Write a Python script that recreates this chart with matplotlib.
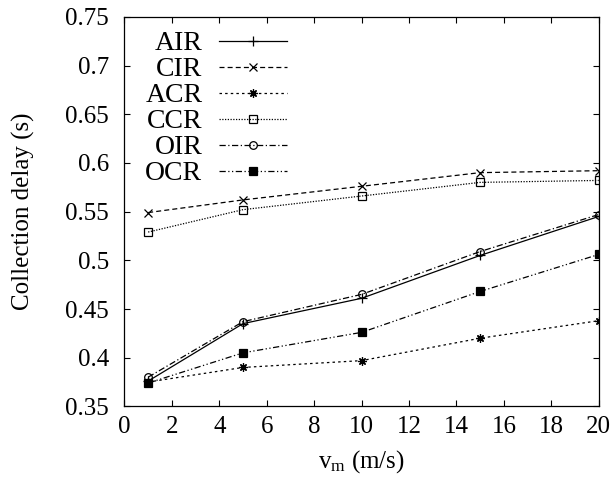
#!python3
# collection delay vs sink speed, gnuplot-like look

import matplotlib
matplotlib.use("Agg")
import matplotlib.pyplot as plt
from matplotlib import font_manager

# data
speeds = [1, 5, 10, 15, 20]
air = [0.376, 0.435, 0.461, 0.505, 0.545]
cir = [0.549, 0.562, 0.576, 0.590, 0.592]
acr = [0.375, 0.390, 0.397, 0.420, 0.438]
ccr = [0.529, 0.552, 0.566, 0.580, 0.582]
oir = [0.380, 0.437, 0.465, 0.509, 0.547]
ocr = [0.374, 0.405, 0.426, 0.468, 0.506]

x_ticks = list(range(0, 21, 2))
y_ticks = [0.35, 0.4, 0.45, 0.5, 0.55, 0.6, 0.65, 0.7, 0.75]
y_tick_labels = ["0.35", "0.4", "0.45", "0.5", "0.55", "0.6", "0.65", "0.7", "0.75"]


def pick_serif():
    names = {f.name for f in font_manager.fontManager.ttflist}
    for n in ["Liberation Serif", "Times New Roman", "Nimbus Roman", "TeX Gyre Termes",
              "FreeSerif", "DejaVu Serif"]:
        if n in names:
            return n
    return "serif"


def main():
    serif = pick_serif()
    plt.rcParams['font.family'] = serif
    plt.rcParams['mathtext.fontset'] = 'custom'
    plt.rcParams['mathtext.rm'] = serif
    plt.rcParams['mathtext.it'] = serif + ':italic'

    fig = plt.figure(figsize=(6.13, 4.87), dpi=100)
    ax = fig.add_axes([0.203, 0.1655, 0.7737, 0.80])

    lw = 0.9
    ms = 6
    ax.plot(speeds, air, color="black", lw=lw, ls="-", marker="+", ms=ms + 1,
            mew=0.9, label="AIR")
    ax.plot(speeds, cir, color="black", lw=lw, ls=(0, (4, 2.5)), marker="x",
            ms=ms, mew=0.9, label="CIR")
    ax.plot(speeds, acr, color="black", lw=lw, ls=(0, (2, 2.5)), marker=(8, 2, 0),
            ms=ms, mew=0.9, label="ACR")
    ax.plot(speeds, ccr, color="black", lw=lw, ls=(0, (1, 1.2)), marker="s",
            ms=ms - 0.5, mfc="none", mew=0.9, label="CCR")
    ax.plot(speeds, oir, color="black", lw=lw, ls=(0, (5, 2, 1, 2)), marker="o",
            ms=ms - 0.5, mfc="none", mew=0.9, label="OIR")
    ax.plot(speeds, ocr, color="black", lw=lw, ls=(0, (5, 2, 1, 2, 1, 2)), marker="s",
            ms=ms, mew=0.9, label="OCR")

    ax.set_xlim(0, 20)
    ax.set_ylim(0.35, 0.75)
    ax.set_xticks(x_ticks)
    ax.set_yticks(y_ticks)
    ax.set_yticklabels(y_tick_labels)
    ax.tick_params(axis='both', which='major', direction='in', length=4.5,
                   width=0.8, top=True, right=True, labelsize=18)
    ax.tick_params(axis='x', pad=7)
    ax.tick_params(axis='y', pad=11)
    for s in ax.spines.values():
        s.set_linewidth(0.9)

    ax.set_xlabel(r"v$_{\mathrm{m}}$ (m/s)", fontsize=18, labelpad=7)
    ax.set_ylabel("Collection delay (s)", fontsize=18, labelpad=22)

    # key in the top left, labels right-aligned against the line samples
    ax.legend(loc="upper right", markerfirst=False, frameon=False, fontsize=20,
              handlelength=2.45, handletextpad=0.6, labelspacing=0.02,
              borderpad=0, borderaxespad=0, bbox_to_anchor=(0.343, 0.964))

    fig.savefig("out.png", dpi=100)


main()
